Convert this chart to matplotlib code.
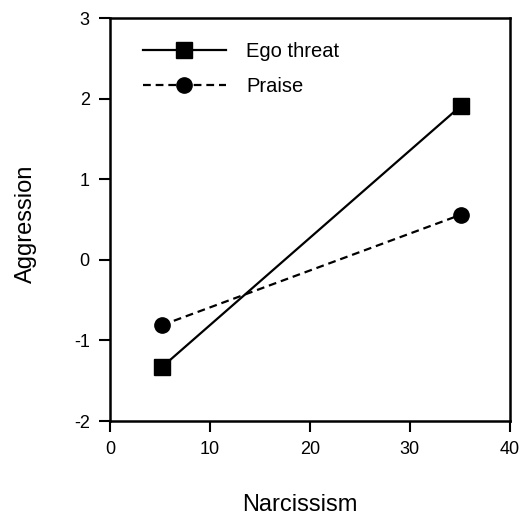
import matplotlib
matplotlib.use("Agg")
import matplotlib.pyplot as plt

# values
narcissism = [5.2, 35.1]
ego_threat = [-1.33, 1.91]
praise = [-0.81, 0.56]
series_labels = ["Ego threat", "Praise"]
x_ticks = [0, 10, 20, 30, 40]
y_ticks = [-2, -1, 0, 1, 2, 3]

plt.rcParams['font.family'] = ['Liberation Sans', 'DejaVu Sans']
plt.rcParams['axes.unicode_minus'] = False

fig = plt.figure(figsize=(5.2, 5.16), dpi=100)
ax = fig.add_axes([0.2115, 0.184, 0.769, 0.781])

ax.plot(narcissism, ego_threat, "-", color="black", lw=1.6,
        marker="s", markersize=11, label=series_labels[0])
ax.plot(narcissism, praise, "--", color="black", lw=1.6, dashes=(3.5, 2.2),
        marker="o", markersize=11, label=series_labels[1])

ax.set_xlim(0, 40)
ax.set_ylim(-2, 3)
ax.set_xticks(x_ticks)
ax.set_yticks(y_ticks)
ax.tick_params(direction="out", length=8, width=1.5, labelsize=13, pad=6.5)
for sp in ax.spines.values():
    sp.set_linewidth(1.8)

ax.set_xlabel("Narcissism", fontsize=17)
ax.set_ylabel("Aggression", fontsize=17)
ax.xaxis.set_label_coords(0.475, -0.181)
ax.yaxis.set_label_coords(-0.183, 0.49)

ax.legend(loc="upper left", bbox_to_anchor=(0.083, 0.94), frameon=False,
          fontsize=14.5, handlelength=4.1, handletextpad=1.0,
          labelspacing=0.8, borderpad=0, borderaxespad=0)

fig.savefig("out.png", dpi=100)
